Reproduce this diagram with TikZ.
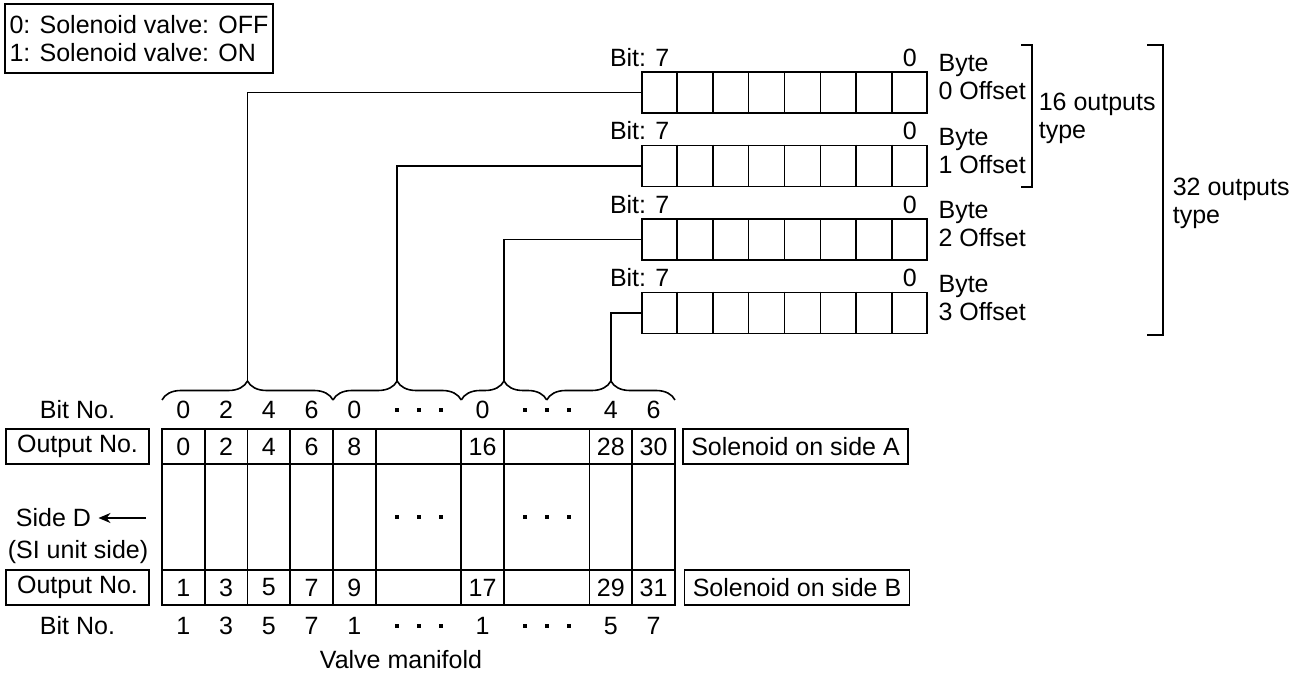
\documentclass[tikz,border=0pt]{standalone}
\usepackage{fontspec}
\setmainfont{Liberation Sans}
\usetikzlibrary{arrows.meta, decorations.pathreplacing, calc}
\newcommand{\sqdot}{\rule[3.4pt]{2pt}{2pt}}
\newcommand{\dts}{\vphantom{0}\sqdot\hspace{9pt}\sqdot\hspace{9pt}\sqdot}

\begin{document}
\begin{tikzpicture}[x=0.5pt, y=-0.5pt, line width=0.8pt,
            every node/.style={font=\fontsize{12.5}{14}\selectfont},
            box/.style={draw, inner sep=0pt},
            bytebox/.style={draw, minimum width=142.5pt, minimum height=20.5pt, inner sep=0pt},
            cell/.style={draw, inner sep=0pt},
            brc/.style={decorate, decoration={brace, amplitude=9.5pt}}]
            \useasboundingbox (0,0) rectangle (1303,678);
            \node (legend) at (139,38.5) [box, minimum width=134pt, minimum height=34.5pt, align=left] {0: Solenoid valve: OFF\\1: Solenoid valve: ON};
            \foreach \k/\cy in {0/92.5, 1/166, 2/239.5, 3/313}{
                \node (byte\k) at (784.5,\cy) [bytebox] {};
                \foreach \i in {1,...,7}
                    \draw ($(byte\k.north west)!\i/8!(byte\k.north east)$) -- ($(byte\k.south west)!\i/8!(byte\k.south east)$);
                \node (hi\k) at ($(byte\k.north west)+(-32,-5)$) [anchor=base west, inner sep=0pt] {Bit: 7};
                \node (lo\k) at ($(byte\k.north east)+(-18,-5)$) [anchor=base, inner sep=0pt] {0};
                \node (off\k) at ($(byte\k.east)+(10,-15)$) [anchor=west, align=left, inner sep=0pt] {Byte\\\k{} Offset};
            }
            \draw (1021,45) -- (1032,45) -- (1032,187) -- (1021,187);
            \node (type16) at (1038,118.5) [anchor=west, align=left, inner sep=0pt] {16 outputs\\type};
            \draw (1147,45) -- (1163,45) -- (1163,335) -- (1147,335);
            \node (type32) at (1172,203.5) [anchor=west, align=left, inner sep=0pt] {32 outputs\\type};
            \foreach \cx/\cw/\topno/\botno/\bitA/\bitB/\md [count=\n] in {
                183.375/21.375/0/1/0/1/{}, 226.125/21.375/2/3/2/3/{}, 268.875/21.375/4/5/4/5/{},
                311.625/21.375/6/7/6/7/{}, 354.375/21.375/8/9/0/1/{}, 418.5/42.75/{}/{}/\dts/\dts/\dts,
                482.625/21.375/16/17/0/1/{}, 546.75/42.75/{}/{}/\dts/\dts/\dts,
                610.875/21.375/28/29/4/5/{}, 653.625/21.375/30/31/6/7/{}}{
                \node (oa\n) at (\cx,446.5) [cell, minimum width=\cw pt, minimum height=17.5pt] {\topno};
                \node (md\n) at (\cx,517) [cell, minimum width=\cw pt, minimum height=53pt] {\md};
                \node (ob\n) at (\cx,587.5) [cell, minimum width=\cw pt, minimum height=17.5pt] {\botno};
                \node (ba\n) at (\cx,410) {\bitA};
                \node (bb\n) at (\cx,626) {\bitB};
            }
            \foreach \k/\a/\b in {0/162/333, 1/333/461.25, 2/461.25/546.75, 3/546.75/675}{
                \draw[brc] (\a,400) -- (\b,400);
                \coordinate (tip\k) at ({(\a+\b)/2},381);
                \draw (tip\k) |- (byte\k.west);
            }
            \node (bitnoA) at (77.5,410) {Bit No.};
            \node (outA) at (77.5,446.5) [box, minimum width=71.5pt, minimum height=17.5pt] {Output No.};
            \node (sided) at (53.5,518) {Side D};
            \coordinate (arrtail) at (146,518);
            \draw[-{Stealth[length=6pt,width=5pt]}] (arrtail) -- (sided.east);
            \node (siunit) at (78,552) {(SI unit side)};
            \node (outB) at (77.5,587.5) [box, minimum width=71.5pt, minimum height=17.5pt] {Output No.};
            \node (bitnoB) at (77.5,626) {Bit No.};
            \node (soleA) at (795.5,446.5) [box, minimum width=112.5pt, minimum height=17.5pt] {Solenoid on side A};
            \node (soleB) at (797,587.5) [box, minimum width=112.5pt, minimum height=17.5pt] {Solenoid on side B};
            \node (manifold) at (401,660) {Valve manifold};
\end{tikzpicture}
\end{document}
